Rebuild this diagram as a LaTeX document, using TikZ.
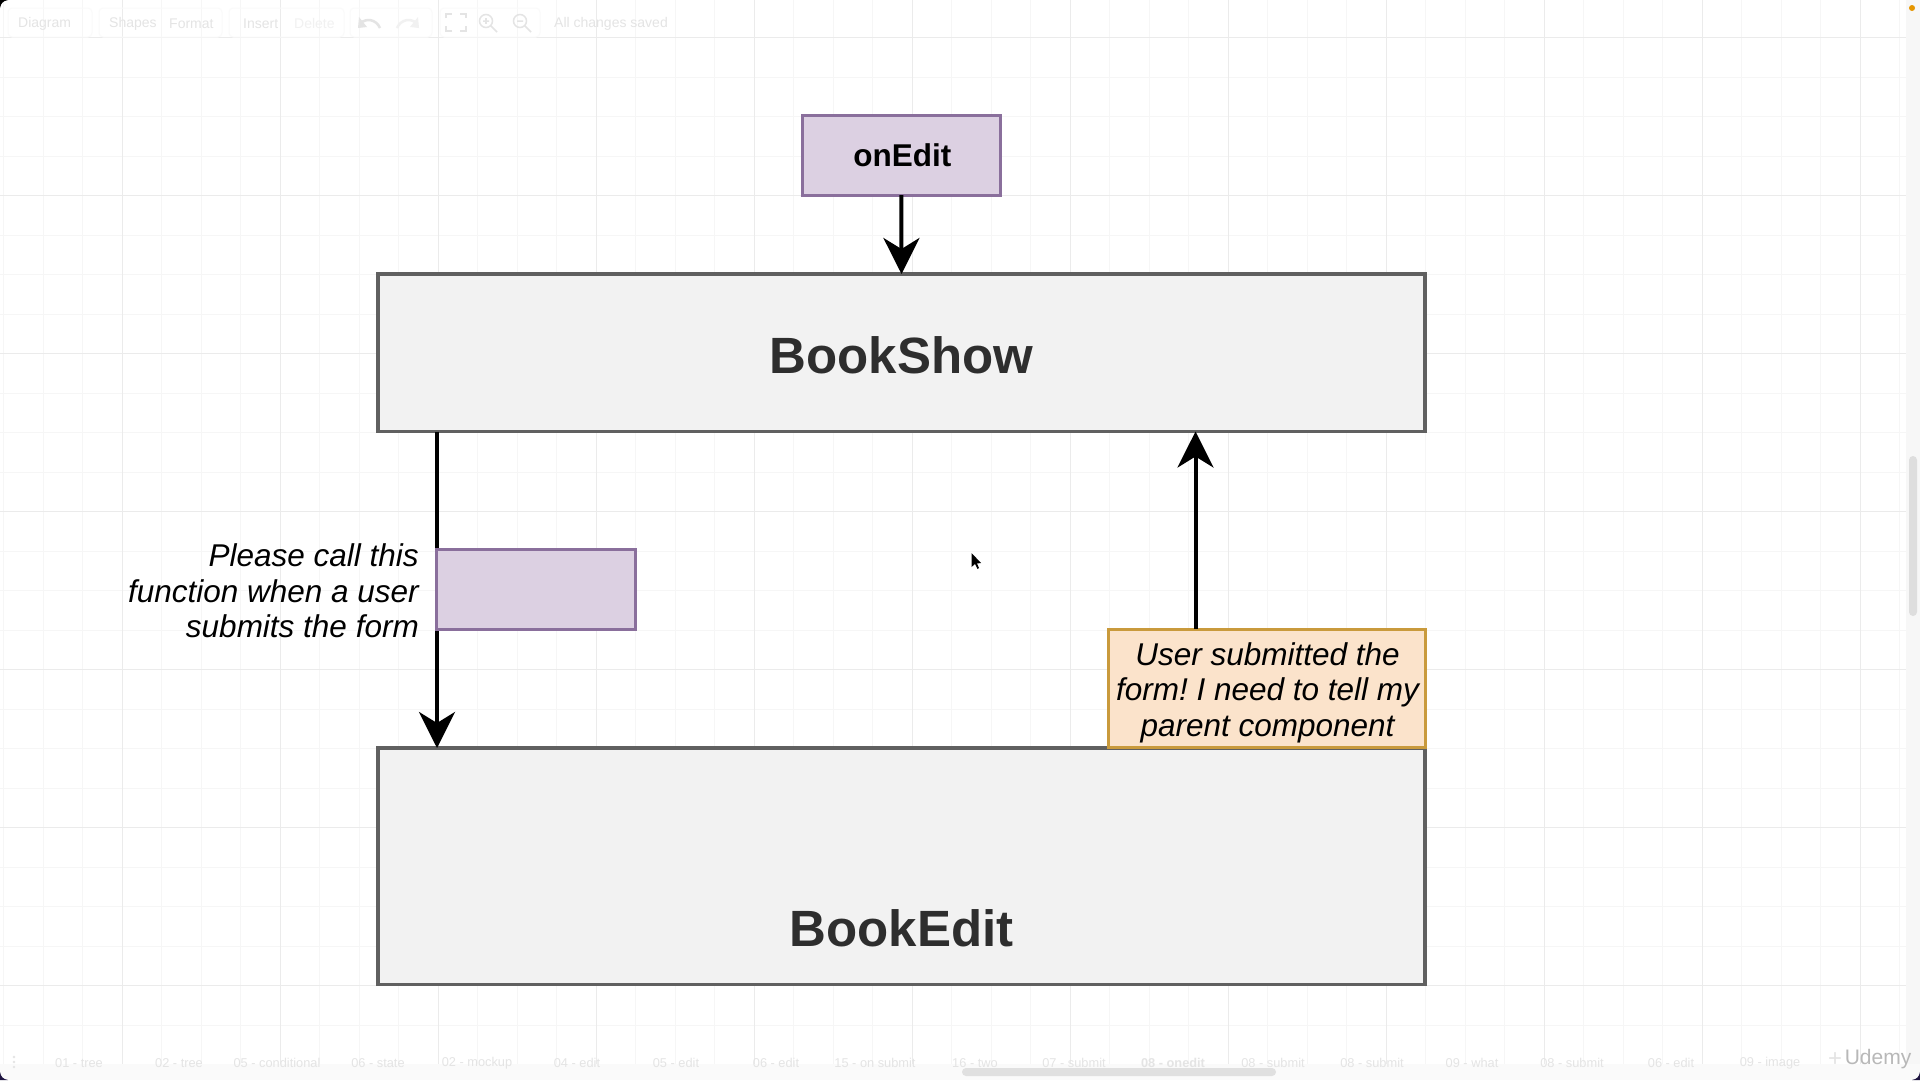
\documentclass[tikz,border=0pt]{standalone}
\usepackage{fontspec}
\setmainfont{Liberation Sans}
\usepackage{tikz}
\usetikzlibrary{calc, arrows.meta, shapes}
\frenchspacing
\definecolor{gridmin}{HTML}{F6F6F6}
\definecolor{gridmaj}{HTML}{EBEBEB}
\definecolor{uitext}{HTML}{E4E4E4}
\definecolor{pillline}{HTML}{FAFAFA}
\definecolor{compfill}{HTML}{F2F2F2}
\definecolor{compline}{HTML}{606060}
\definecolor{propfill}{HTML}{DCD0E2}
\definecolor{propline}{HTML}{8A6F9C}
\definecolor{notefill}{HTML}{FBE3CB}
\definecolor{noteline}{HTML}{C99A3C}
\definecolor{corner}{HTML}{1E1440}
\tikzset{
  compbox/.style={draw=compline, fill=compfill, line width=3.5pt, minimum width=1047pt, anchor=north west, inner sep=0pt, outer sep=0pt},
  compname/.style={font=\fontsize{51}{56}\selectfont\bfseries, text=black!82, inner sep=0pt},
  propbox/.style={draw=propline, fill=propfill, line width=3pt, minimum width=198.4pt, minimum height=79.7pt, anchor=north west, inner sep=0pt, outer sep=0pt},
  notebox/.style={draw=noteline, fill=notefill, line width=3pt, minimum width=317pt, minimum height=118.8pt, anchor=north west, inner sep=0pt, outer sep=0pt},
  notetext/.style={align=center, inner sep=0pt, font=\fontsize{31.5}{35.5}\selectfont\itshape},
  flow/.style={-{Stealth[length=36pt, width=36pt, inset=11pt]}, line width=4pt},
  tabname/.style={text=uitext, font=\fontsize{12.8}{15}\selectfont, inner sep=0pt},
  toolname/.style={text=uitext, font=\fontsize{14}{16}\selectfont, inner sep=0pt, anchor=west},
  toolpill/.style={draw=pillline, rounded corners=4pt, line width=1pt}
}
\begin{document}
\begin{tikzpicture}[x=1pt, y=-1pt]
\useasboundingbox (0,0) rectangle (1920,1080);
\fill[white] (0,0) rectangle (1920,1080);
% grid of the canvas
\foreach \gx in {0,...,48} \draw[gridmin, line width=1pt] (3.5+39.5*\gx,0) -- (3.5+39.5*\gx,1064);
\foreach \gy in {0,...,26} \draw[gridmin, line width=1pt] (0,37.5+39.5*\gy) -- (1920,37.5+39.5*\gy);
\foreach \gx in {0,...,11} \draw[gridmaj, line width=1pt] (122+158*\gx,0) -- (122+158*\gx,1064);
\foreach \gy in {0,...,6} \draw[gridmaj, line width=1pt] (0,37+158*\gy) -- (1920,37+158*\gy);
% boxes
\node[compbox, minimum height=157.5pt] (bookshow) at (378,274) {};
\node[compname] (bookshowname) at (901.5,355) {BookShow};
\node[compbox, minimum height=236.5pt] (bookedit) at (378,748) {};
\node[compname] (bookeditname) at (901.5,928) {BookEdit};
\node[propbox, font=\fontsize{31.5}{36}\selectfont\bfseries] (onedit) at (802.2,115.5) {\hspace{2pt}onEdit};
\node[notebox] (usernote) at (1108.2,629) {};
\node[notetext] (usernotetext) at (1267.5,692.5) {User submitted the\\form! I need to tell my\\parent component};
\node[anchor=east, align=right, inner sep=0pt, font=\fontsize{31.5}{35.5}\selectfont\itshape] (callnote) at (419,591) {Please call this\\function when a user\\submits the form};
% arrows
\coordinate (dropx) at (437,0);
\coordinate (risex) at (1195.5,0);
\draw[flow] (onedit.south) -- (bookshow.north);
\draw[flow] (bookshow.south -| dropx) -- (bookedit.north -| dropx);
\draw[flow] (usernote.north -| risex) -- (bookshow.south -| risex);
\node[propbox] (callback) at (436.8,549.5) {};
% toolbar
\foreach \pilla/\pillb in {8/92, 99/222, 229/344, 350/432, 440/540}
  \draw[toolpill] (\pilla,8) rectangle (\pillb,37);
\node[toolname] (tdiagram) at (18,23.5) {Diagram};
\node[toolname] (tshapes) at (109,23.5) {Shapes};
\node[toolname] (tformat) at (169,23.5) {Format};
\node[toolname] (tinsert) at (243,23.5) {Insert};
\node[toolname, text=uitext!50] (tdelete) at (294,23.5) {Delete};
\node[toolname] (tsaved) at (554,23.5) {All changes saved};
\draw[uitext, line width=2.5pt] (380,28) .. controls (376,19) and (366,18) .. (361,23);
\fill[uitext] (359,17) -- (367,27) -- (358,28) -- cycle;
\draw[uitext!50, line width=2.5pt] (397,28) .. controls (401,19) and (411,18) .. (416,23);
\fill[uitext!50] (418,17) -- (410,27) -- (419,28) -- cycle;
\draw[uitext, line width=1.5pt] (446,18) -- (446,14) -- (452,14) (460,14) -- (466,14) -- (466,18) (466,26) -- (466,31) -- (460,31) (452,31) -- (446,31) -- (446,26);
\foreach \zx/\zsign in {486/1,520/0} {
  \draw[uitext, line width=1.5pt] (\zx,21) circle (6.5) (\zx+4.5,25.5) -- (\zx+11,32) (\zx-3,21) -- (\zx+3,21);
  \ifnum\zsign=1 \draw[uitext, line width=1.2pt] (\zx,18) -- (\zx,24); \fi
}
% tabs
\fill[black!2] (0,1064) rectangle (1920,1080);
\fill[uitext] (14,1057) circle (1.4) (14,1062) circle (1.4) (14,1067) circle (1.4);
\foreach \tabx/\tabname in {79/01 - tree, 179/02 - tree, 277/05 - conditional, 378/06 - state, 477/02 - mockup, 577/04 - edit, 676/05 - edit, 776/06 - edit, 875/15 - on submit, 975/16 - two, 1074/07 - submit, 1273/08 - submit, 1372/08 - submit, 1472/09 - what, 1572/08 - submit, 1671/06 - edit, 1770/09 - image}
  \node[tabname] at (\tabx,1063) {\tabname};
\node[tabname, font=\fontsize{12.8}{15}\selectfont\bfseries] at (1173,1063) {08 - onedit};
\fill[rounded corners=4pt, black!12] (962,1068) rectangle (1276,1076);
% side strip and scroll bar
\fill[black!3] (1906,0) rectangle (1920,1064);
\fill[rounded corners=4pt, black!13] (1909,456) rectangle (1917,616);
% recording frame
\fill[orange!70!yellow!90!black] (1912,8) circle (3);
\fill[black] (0,0) -- (8,0) .. controls (3,1) and (1,3) .. (0,8) -- cycle;
\fill[corner] (0,1080) -- (8,1080) .. controls (3,1079) and (1,1077) .. (0,1072) -- cycle;
\fill[corner] (1920,1080) -- (1912,1080) .. controls (1917,1079) and (1919,1077) .. (1920,1072) -- cycle;
% watermark
\node[text=uitext, font=\fontsize{24}{26}\selectfont, inner sep=0pt] (plusmark) at (1835,1060) {+};
\node[text=black!28, font=\fontsize{21}{22}\selectfont, inner sep=0pt] (udemy) at (1878,1059) {Udemy};
% pointer
\fill[black] (971.5,553) -- (971.5,567) -- (975,564) -- (977.5,569) -- (979,568) -- (977,563.5) -- (981,563) -- cycle;
\end{tikzpicture}
\end{document}
